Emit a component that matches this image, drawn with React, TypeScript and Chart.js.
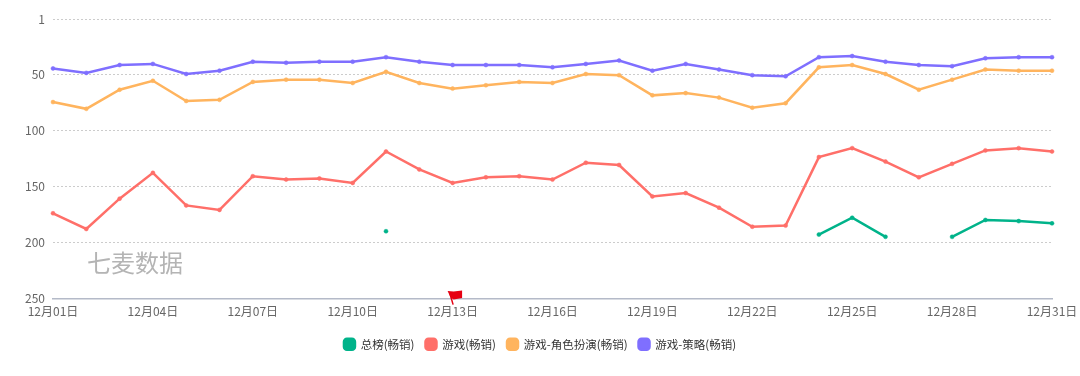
import React, { useEffect, useRef } from "react";
import { Chart, registerables } from "chart.js";

Chart.register(...registerables);

const days = Array.from({ length: 31 }, (_, i) => `12月${String(i + 1).padStart(2, "0")}日`);
const yTicks = [1, 50, 100, 150, 200, 250];
const overall = [null, null, null, null, null, null, null, null, null, null, 190, null, null, null, null, null, null, null, null, null, null, null, null, 193, 178, 195, null, 195, 180, 181, 183];
const games = [174, 188, 161, 138, 167, 171, 141, 144, 143, 147, 119, 135, 147, 142, 141, 144, 129, 131, 159, 156, 169, 186, 185, 124, 116, 128, 142, 130, 118, 116, 119];
const rpg = [75, 81, 64, 56, 74, 73, 57, 55, 55, 58, 48, 58, 63, 60, 57, 58, 50, 51, 69, 67, 71, 80, 76, 44, 42, 50, 64, 55, 46, 47, 47];
const strategy = [45, 49, 42, 41, 50, 47, 39, 40, 39, 39, 35, 39, 42, 42, 42, 44, 41, 38, 47, 41, 46, 51, 52, 35, 34, 39, 42, 43, 36, 35, 35];
const seriesNames = ["总榜(畅销)", "游戏(畅销)", "游戏-角色扮演(畅销)", "游戏-策略(畅销)"];
const seriesColors = ["#00B38A", "#FF6F69", "#FFB45E", "#7F6FFF"];
const flagDay = "12月13日";
const watermark = "七麦数据";
const FONT = '"Noto Sans CJK SC", "Noto Sans", sans-serif';

const extras = {
  id: "extras",
  afterLayout(chart: any) {
    chart.legend.left += 14;
    chart.legend.right += 14;
  },
  afterDatasetsDraw(chart: any) {
    const { ctx, scales } = chart;
    ctx.save();
    ctx.font = `24px ${FONT}`;
    ctx.fillStyle = "#b4b4b4";
    ctx.textBaseline = "middle";
    ctx.textAlign = "left";
    ctx.fillText(watermark, 87, 263);
    const x = scales.x.getPixelForValue(days.indexOf(flagDay));
    const y = scales.y.getPixelForValue(250);
    ctx.fillStyle = "#E60012";
    ctx.strokeStyle = "#E60012";
    ctx.lineWidth = 1.5;
    ctx.beginPath();
    ctx.moveTo(x + 0.5, y + 6);
    ctx.lineTo(x - 3, y - 6);
    ctx.stroke();
    ctx.beginPath();
    ctx.moveTo(x - 5, y - 7.5);
    ctx.lineTo(x + 1, y - 7);
    ctx.lineTo(x + 9.5, y - 8);
    ctx.lineTo(x + 9.5, y - 0.5);
    ctx.lineTo(x + 1, y + 1);
    ctx.lineTo(x - 2, y - 1);
    ctx.closePath();
    ctx.fill();
    ctx.restore();
  },
};

export default function App() {
  const ref = useRef<HTMLCanvasElement>(null);
  useEffect(() => {
    document.body.style.margin = "0";
    const series = [overall, games, rpg, strategy];
    const chart = new Chart(ref.current!, {
      type: "line",
      data: {
        labels: days,
        datasets: series.map((d, i) => ({
          label: seriesNames[i],
          data: d,
          borderColor: seriesColors[i],
          backgroundColor: seriesColors[i],
          pointBackgroundColor: seriesColors[i],
          pointBorderColor: seriesColors[i],
          borderWidth: 2.5,
          pointRadius: 2,
          pointBorderWidth: 0.5,
          tension: 0,
          spanGaps: false,
        })),
      },
      options: {
        animation: false,
        responsive: false,
        devicePixelRatio: 1,
        layout: { padding: { left: 0, right: 28, top: 19, bottom: 16 } },
        plugins: {
          tooltip: { enabled: false },
          title: { display: false },
          legend: {
            position: "bottom",
            align: "center",
            labels: {
              boxWidth: 11,
              boxHeight: 11,
              useBorderRadius: true,
              borderRadius: 3,
              padding: 11,
              color: "#333",
              font: { family: FONT, size: 11.5 },
            },
          },
        },
        scales: {
          x: {
            type: "category",
            offset: false,
            grid: { display: false, drawTicks: false },
            border: { display: true, color: "#B4BAC8", width: 1.5 },
            afterFit: (s: any) => {
              s.height += 3.5;
              s.paddingLeft = 0;
              s.paddingRight = 0;
            },
            ticks: {
              autoSkip: false,
              maxRotation: 0,
              minRotation: 0,
              padding: 5.5,
              color: "#666",
              font: { family: FONT, size: 12 },
              callback: (_: any, i: number) => (i % 3 === 0 ? days[i] : ""),
            },
          },
          y: {
            type: "linear",
            reverse: true,
            min: 1,
            max: 250,
            afterBuildTicks: (s: any) => {
              s.ticks = yTicks.map((value) => ({ value }));
            },
            afterFit: (s: any) => {
              s.width = 53;
            },
            grid: {
              drawTicks: false,
              color: (c: any) => (c.tick && c.tick.value === 250 ? "rgba(0,0,0,0)" : "#CCCCCC"),
              lineWidth: 1,
            },
            border: { display: false, dash: [2, 2] },
            ticks: {
              padding: 8,
              color: "#666",
              font: { family: FONT, size: 12 },
              callback: (v: any) => String(v),
            },
          },
        },
      },
      plugins: [extras],
    } as any);
    return () => chart.destroy();
  }, []);
  return <canvas ref={ref} width={1080} height={376} style={{ display: "block" }} />;
}
